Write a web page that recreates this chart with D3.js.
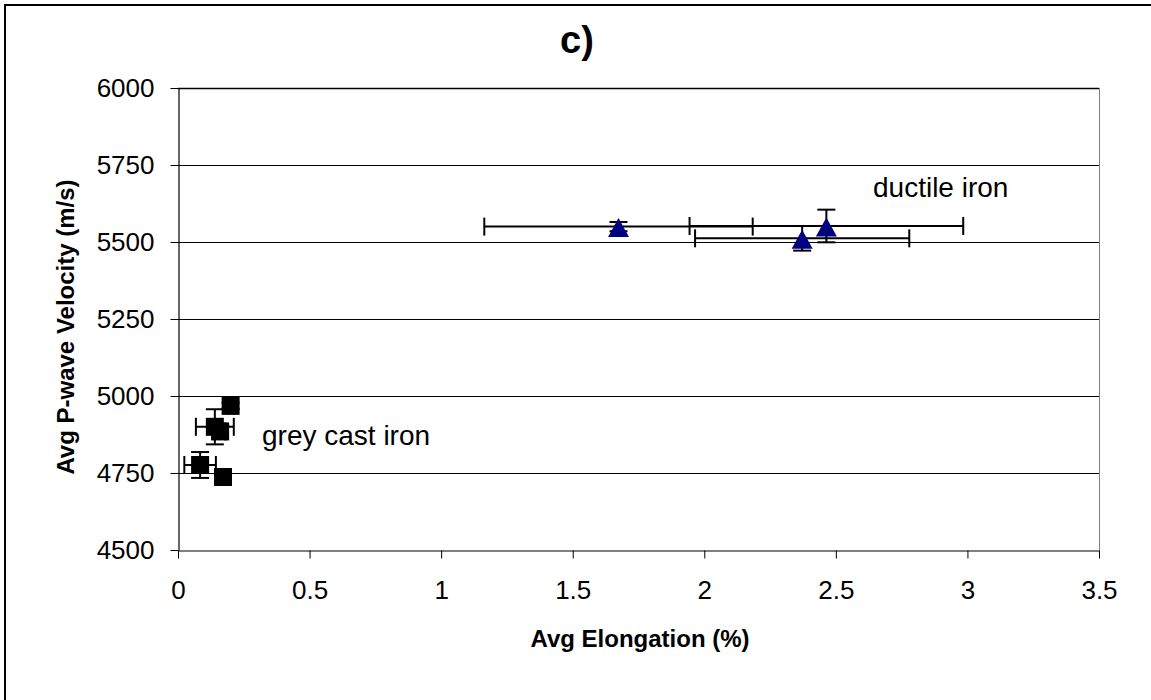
<!DOCTYPE html>
<html>
<head>
<meta charset="utf-8">
<script src="https://cdn.jsdelivr.net/npm/d3@7"></script>
<style>
  html, body { margin: 0; padding: 0; background: #fff; }
  svg { display: block; font-family: "Liberation Sans", Arial, sans-serif; }
</style>
</head>
<body>
<svg id="chart" width="1151" height="700"></svg>
<script>
// ---- data ----
const greyX      = [0.20, 0.14, 0.16, 0.084, 0.171];
const greyY      = [4968, 4900, 4885, 4776, 4737];
const greyXErr   = [0.012, 0.072, 0.02, 0.06, 0.012];
const greyYErr   = [10, 57, 20, 42, 10];

const ductileX    = [1.674, 2.372, 2.464];
const ductileY    = [5550, 5512, 5552];
const ductileXErr = [0.51, 0.407, 0.52];
const ductileYErr = [15, 40, 53];

const xTicks = [0, 0.5, 1, 1.5, 2, 2.5, 3, 3.5];
const yTicks = [4500, 4750, 5000, 5250, 5500, 5750, 6000];

const titleText = "c)";
const xTitle = "Avg Elongation (%)";
const yTitle = "Avg P-wave Velocity (m/s)";
const greyLabel = "grey cast iron";
const ductileLabel = "ductile iron";

// ---- layout ----
const svg = d3.select("#chart");
const L = 178, R = 1099, T = 88, B = 550;
const x = d3.scaleLinear().domain([0, 3.5]).range([L, R]);
const y = d3.scaleLinear().domain([4500, 6000]).range([B, T]);

// outer border (only top/left visible)
svg.append("rect").attr("x", 5).attr("y", 5).attr("width", 1170).attr("height", 720)
  .attr("fill", "#fff").attr("stroke", "#000").attr("stroke-width", 2);

// gridlines
svg.append("g").selectAll("line").data(yTicks.filter(d => d !== 4500)).join("line")
  .attr("x1", L).attr("x2", R)
  .attr("y1", d => Math.round(y(d)) + 0.5).attr("y2", d => Math.round(y(d)) + 0.5)
  .attr("stroke", "#000").attr("stroke-width", d => d === 6000 ? 1.5 : 1);

// right border of plot area
svg.append("line").attr("x1", R + 0.5).attr("x2", R + 0.5).attr("y1", T).attr("y2", B)
  .attr("stroke", "#808080").attr("stroke-width", 1);

// axes
const yAxis = svg.append("g").attr("transform", `translate(${L + 0.5},0)`)
  .call(d3.axisLeft(y).tickValues(yTicks).tickSize(8).tickPadding(16).tickSizeOuter(0).tickFormat(d3.format("d")));
const xAxis = svg.append("g").attr("transform", `translate(0,${B + 0.5})`)
  .call(d3.axisBottom(x).tickValues(xTicks).tickSize(8).tickPadding(22).tickSizeOuter(0).tickFormat(d => String(d)));
[yAxis, xAxis].forEach(a => {
  a.select(".domain").attr("stroke", "#000").attr("stroke-width", 1.2);
  a.selectAll(".tick line").attr("stroke", "#000");
  a.selectAll(".tick text").attr("font-size", 26).attr("fill", "#000")
    .attr("font-family", "Liberation Sans, Arial, sans-serif");
});

// error bars helper
function errorBars(g, xs, ys, xe, ye) {
  const cap = 9;
  xs.forEach((xv, i) => {
    const cx = x(xv), cy = y(ys[i]);
    const x0 = x(xv - xe[i]), x1 = x(xv + xe[i]);
    const y0 = y(ys[i] - ye[i]), y1 = y(ys[i] + ye[i]);
    const gg = g.append("g").attr("stroke", "#000").attr("stroke-width", 2);
    gg.append("line").attr("x1", x0).attr("x2", x1).attr("y1", cy).attr("y2", cy);
    gg.append("line").attr("x1", x0).attr("x2", x0).attr("y1", cy - cap).attr("y2", cy + cap);
    gg.append("line").attr("x1", x1).attr("x2", x1).attr("y1", cy - cap).attr("y2", cy + cap);
    gg.append("line").attr("x1", cx).attr("x2", cx).attr("y1", y0).attr("y2", y1);
    gg.append("line").attr("x1", cx - cap).attr("x2", cx + cap).attr("y1", y0).attr("y2", y0);
    gg.append("line").attr("x1", cx - cap).attr("x2", cx + cap).attr("y1", y1).attr("y2", y1);
  });
}

const marks = svg.append("g");
errorBars(marks, greyX, greyY, greyXErr, greyYErr);
errorBars(marks, ductileX, ductileY, ductileXErr, ductileYErr);

// grey cast iron squares
const sq = 18;
marks.append("g").selectAll("rect").data(greyX).join("rect")
  .attr("x", (d, i) => x(d) - sq / 2).attr("y", (d, i) => y(greyY[i]) - sq / 2)
  .attr("width", sq).attr("height", sq).attr("fill", "#000");

// ductile iron triangles
const tw = 21, th = 19;
marks.append("g").selectAll("path").data(ductileX).join("path")
  .attr("d", (d, i) => {
    const cx = x(d), cy = y(ductileY[i]);
    return `M${cx},${cy - th * 0.45}L${cx + tw / 2},${cy + th * 0.55}L${cx - tw / 2},${cy + th * 0.55}Z`;
  })
  .attr("fill", "#000080");

// annotations
svg.append("text").attr("x", 873).attr("y", 197).attr("font-size", 28).attr("fill", "#000").text(ductileLabel);
svg.append("text").attr("x", 262).attr("y", 445).attr("font-size", 28).attr("fill", "#000").text(greyLabel);

// titles
svg.append("text").attr("x", 577).attr("y", 53).attr("text-anchor", "middle")
  .attr("font-size", 38).attr("font-weight", "bold").text(titleText);
svg.append("text").attr("x", 640).attr("y", 647).attr("text-anchor", "middle")
  .attr("font-size", 24).attr("font-weight", "bold").text(xTitle);
svg.append("text").attr("transform", "translate(74,327) rotate(-90)").attr("text-anchor", "middle")
  .attr("font-size", 24).attr("font-weight", "bold").text(yTitle);
</script>
</body>
</html>
